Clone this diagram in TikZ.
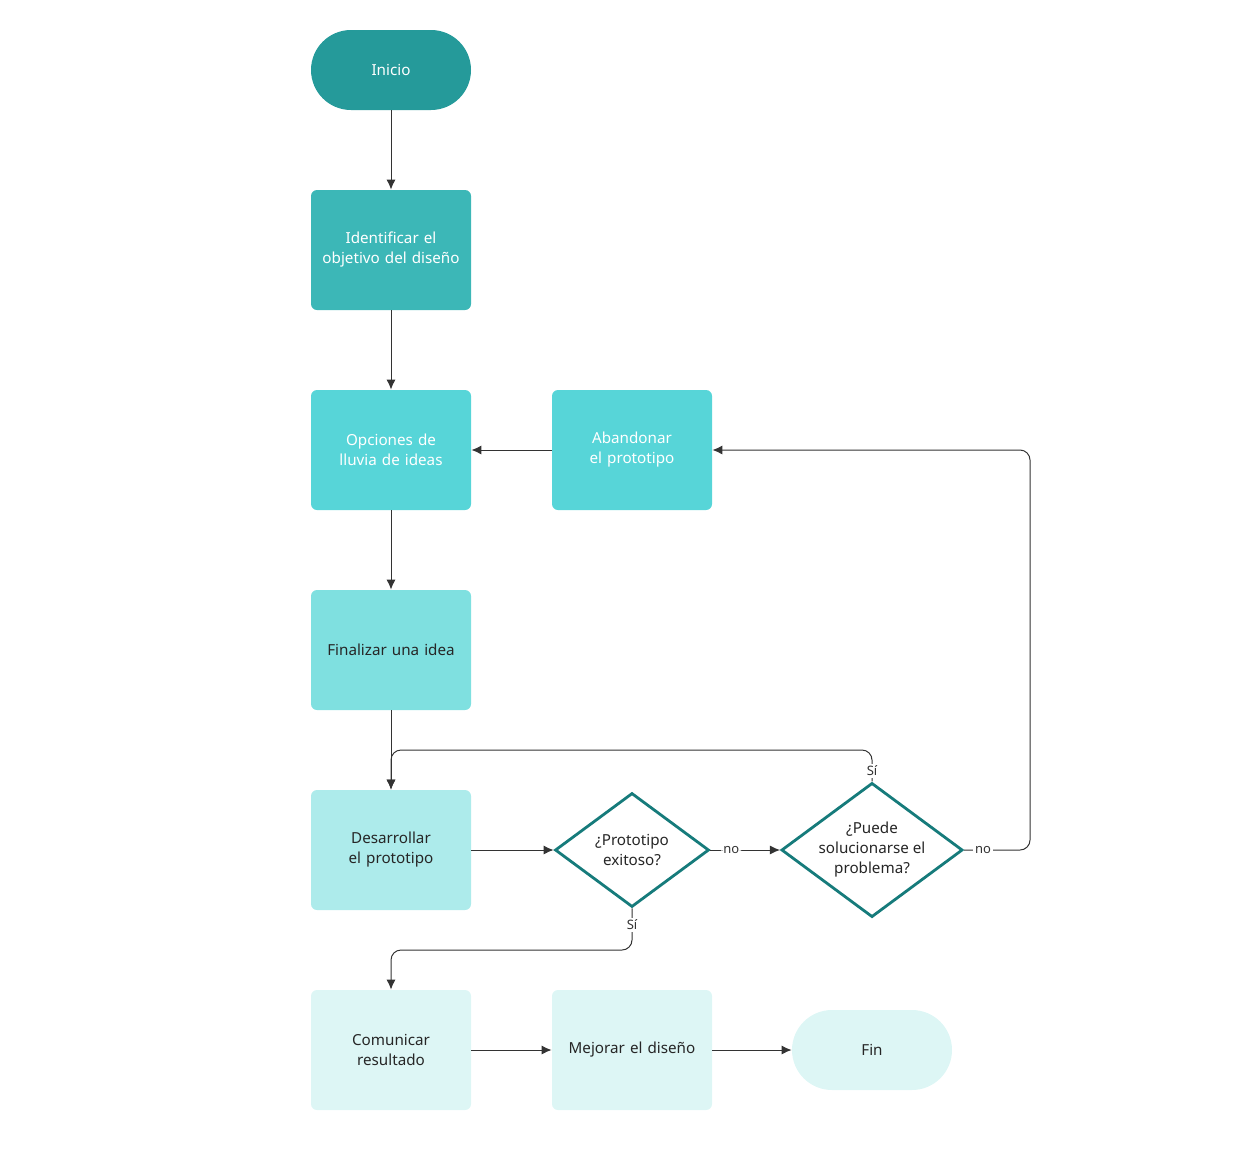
\documentclass[tikz,border=0pt]{standalone}
\usepackage{fontspec}
\setmainfont{Noto Sans}
\usetikzlibrary{shapes.geometric,arrows.meta}
\definecolor{tealA}{HTML}{259A9A}
\definecolor{tealB}{HTML}{3CB7B7}
\definecolor{tealC}{HTML}{57D5D8}
\definecolor{tealD}{HTML}{7FE0E0}
\definecolor{tealE}{HTML}{ADEBEB}
\definecolor{tealF}{HTML}{DDF6F5}
\definecolor{edgeline}{HTML}{333333}
\definecolor{diaborder}{HTML}{167B7B}
\tikzset{
  stepbox/.style={rectangle, rounded corners=3pt, minimum width=80pt, minimum height=60pt, align=center, inner sep=2pt, text width=70pt, font=\fontsize{7.6}{10}\selectfont},
  pill/.style={rectangle, rounded corners=20pt, minimum width=80pt, minimum height=40pt, align=center, font=\fontsize{7.6}{10}\selectfont},
  decision/.style={diamond, draw=diaborder, line width=1.4pt, fill=white, minimum width=77pt, minimum height=57pt, inner sep=0pt, aspect=1.35, align=center, font=\fontsize{7.6}{10}\selectfont, text=black!85},
  flow/.style={draw=edgeline, line width=0.5pt, rounded corners=5pt, -{Latex[length=5pt,width=4.5pt]}},
  lbl/.style={fill=white, inner sep=1pt, font=\fontsize{6.5}{8}\selectfont\bfseries, text=black!80}
}
\begin{document}
\begin{tikzpicture}[x=0.5pt, y=-0.5pt]
  \useasboundingbox (0,0) rectangle (1236,1151);

  % column of steps
  \node[pill, fill=tealA, text=white] at (391,70) (inicio) {Inicio};
  \node[stepbox, fill=tealB, text=white] at (391,250) (objetivo) {Identificar el objetivo del diseño};
  \node[stepbox, fill=tealC, text=white] at (391,450) (lluvia) {Opciones de lluvia de ideas};
  \node[stepbox, fill=tealC, text=white] at (632,450) (abandonar) {Abandonar el prototipo};
  \node[stepbox, fill=tealD, text=black!85] at (391,650) (finalizar) {Finalizar una idea};
  \node[stepbox, fill=tealE, text=black!85] at (391,850) (desarrollar) {Desarrollar el prototipo};
  \node[decision] at (632,850) (exitoso) {¿Prototipo\\exitoso?};
  \node[decision] at (872,850) (solucion) {¿Puede\\solucionarse el\\problema?};
  \node[stepbox, fill=tealF, text=black!85] at (391,1050) (comunicar) {Comunicar resultado};
  \node[stepbox, fill=tealF, text=black!85] at (632,1050) (mejorar) {Mejorar el diseño};
  \node[pill, fill=tealF, text=black!85] at (872,1050) (fin) {Fin};

  \draw[flow] (inicio) -- (objetivo);
  \draw[flow] (objetivo) -- (lluvia);
  \draw[flow] (lluvia) -- (finalizar);
  \draw[flow] (finalizar) -- (desarrollar);
  \draw[flow] (abandonar) -- (lluvia);
  \draw[flow] (desarrollar) -- (exitoso);
  \draw[flow] (exitoso) -- node[lbl, pos=0.3] {no} (solucion);
  \draw[flow] (solucion.north) -- (872,750) -- (391,750) -- (desarrollar.north);
  \node[lbl] at (872,771) {Sí};
  \draw[flow] (solucion.east) -- (1030,850) -- (1030,450) -- (abandonar.east);
  \node[lbl] at (983,850) {no};
  \draw[flow] (exitoso.south) -- (632,950) -- (391,950) -- (comunicar.north);
  \node[lbl] at (632,925) {Sí};
  \draw[flow] (comunicar) -- (mejorar);
  \draw[flow] (mejorar) -- (fin);
\end{tikzpicture}
\end{document}
